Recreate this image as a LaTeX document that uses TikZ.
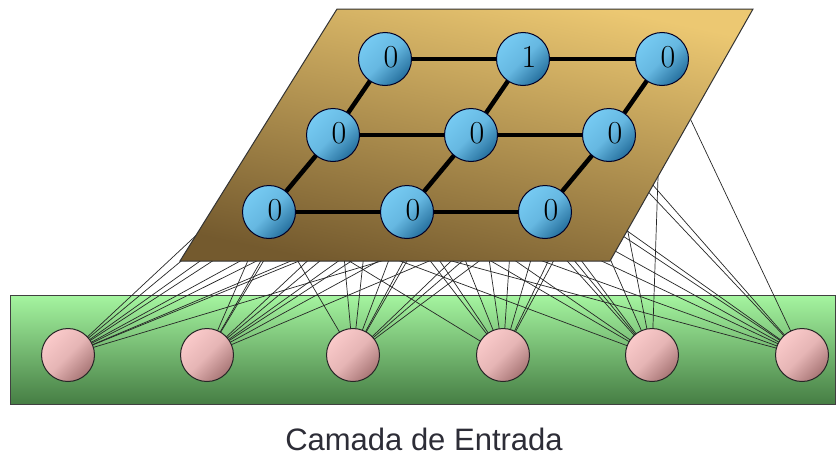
\documentclass[tikz,border=0pt]{standalone}
\usepackage{fontspec}
\newfontfamily\labelfont{Liberation Sans}
\newcommand\digitfont{\fontsize{32}{32}\selectfont}

\definecolor{greenTop}{RGB}{165,245,160}
\definecolor{greenBot}{RGB}{70,126,68}
\definecolor{planeLight}{RGB}{236,200,114}
\definecolor{planeDark}{RGB}{116,90,46}
\definecolor{blueLight}{RGB}{118,202,242}
\definecolor{blueDark}{RGB}{38,112,158}
\definecolor{pinkLight}{RGB}{250,202,202}
\definecolor{pinkDark}{RGB}{168,118,118}
\definecolor{captionGrey}{RGB}{45,45,55}

\pgfdeclarelayer{base}
\pgfdeclarelayer{links}
\pgfdeclarelayer{plane}
\pgfdeclarelayer{grid}
\pgfsetlayers{base,links,plane,grid,main}

\tikzset{
  unit/.style={circle, draw=black!85!blue, line width=1pt, minimum size=53pt, inner sep=0pt,
    top color=blueLight, bottom color=blueDark, middle color=blueLight!80!blueDark,
    shading angle=45},
  inputunit/.style={circle, draw=black!85, line width=1pt, minimum size=53pt, inner sep=0pt,
    top color=pinkLight, bottom color=pinkDark, middle color=pinkLight!75!pinkDark,
    shading angle=45},
  val/.style={label={[font=\digitfont, xshift=6pt, yshift=2pt]center:#1}},
  gridlink/.style={line width=4.5pt, black},
  conn/.style={draw=black!85, line width=0.7pt},
}

\begin{document}
\begin{tikzpicture}[x=1pt, y=-1pt]
  \useasboundingbox (0,0) rectangle (837,455);

  % output map: 3x3 lattice of units
  \node[unit, val=0] (n11) at (385,59) {};
  \node[unit, val=1] (n12) at (523,59) {};
  \node[unit, val=0] (n13) at (662,59) {};
  \node[unit, val=0] (n21) at (333,135) {};
  \node[unit, val=0] (n22) at (471,135) {};
  \node[unit, val=0] (n23) at (609,135) {};
  \node[unit, val=0] (n31) at (269,212) {};
  \node[unit, val=0] (n32) at (407,212) {};
  \node[unit, val=0] (n33) at (545,212) {};

  % input units
  \node[inputunit] (i1) at (68,355) {};
  \node[inputunit] (i2) at (207,355) {};
  \node[inputunit] (i3) at (353,355) {};
  \node[inputunit] (i4) at (503,355) {};
  \node[inputunit] (i5) at (652,355) {};
  \node[inputunit] (i6) at (802,355) {};

  \node[font=\labelfont\fontsize{31}{31}\selectfont, text=captionGrey, anchor=base]
    (caption) at (424,450) {Camada de Entrada};

  % input layer band
  \begin{pgfonlayer}{base}
    \path[draw=black!75, line width=1pt, top color=greenTop, bottom color=greenBot]
      (10,295) rectangle (835,404);
  \end{pgfonlayer}

  % every input feeds every map unit
  \begin{pgfonlayer}{links}
    \foreach \k in {1,...,6}
      \foreach \r in {1,2,3}
        \foreach \c in {1,2,3}
          \draw[conn] (i\k.center) -- (n\r\c.center);
  \end{pgfonlayer}

  % map plane
  \begin{pgfonlayer}{plane}
    \path[draw=black!80, line width=1pt, top color=planeLight, bottom color=planeDark,
      shading angle=-12]
      (337,9) -- (753,9) -- (610,261) -- (180,261) -- cycle;
  \end{pgfonlayer}

  % lattice neighbourhood links
  \begin{pgfonlayer}{grid}
    \foreach \r in {1,2,3} {
      \draw[gridlink] (n\r1.center) -- (n\r2.center) -- (n\r3.center);
      \draw[gridlink] (n1\r.center) -- (n2\r.center) -- (n3\r.center);
    }
  \end{pgfonlayer}
\end{tikzpicture}
\end{document}
